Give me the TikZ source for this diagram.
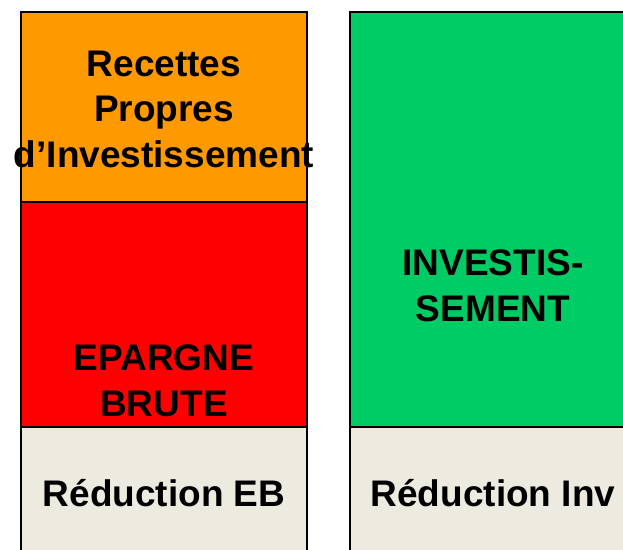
\documentclass[tikz,border=0pt]{standalone}
\usepackage{fontspec}
\setmainfont{Liberation Sans}
\definecolor{orangeRP}{HTML}{FF9900}
\definecolor{rougeEB}{HTML}{FF0000}
\definecolor{vertInv}{HTML}{00CC66}
\definecolor{beigeRed}{HTML}{EDEBE0}
\begin{document}
\begin{tikzpicture}[x=1pt,y=-1pt]
\tikzset{
  bloc/.style={draw=black, line width=1.5pt},
  lbl/.style={font=\fontsize{37}{45.5}\selectfont\bfseries, align=center, anchor=base}
}
\useasboundingbox (0,0) rectangle (623,549);
\clip (0,0) rectangle (623,549);

% colonne gauche
\filldraw[bloc, fill=orangeRP] (21,12) rectangle (307,202);
\filldraw[bloc, fill=rougeEB] (21,202) rectangle (307,427);
\filldraw[bloc, fill=beigeRed] (21,427) rectangle (307,570);

% colonne droite
\filldraw[bloc, fill=vertInv] (350,12) rectangle (636,427);
\filldraw[bloc, fill=beigeRed] (350,427) rectangle (636,570);

% textes (base = derniere ligne)
\node[lbl] (rpi) at (164,167) {Recettes\\Propres\\d’Investissement};
\node[lbl] (eb) at (164,416) {EPARGNE\\BRUTE};
\node[lbl] (redeb) at (164,506) {Réduction EB};
\node[lbl] (inv) at (493,321) {INVESTIS-\\SEMENT};
\node[lbl] (redinv) at (493,506) {Réduction Inv};

\end{tikzpicture}
\end{document}
